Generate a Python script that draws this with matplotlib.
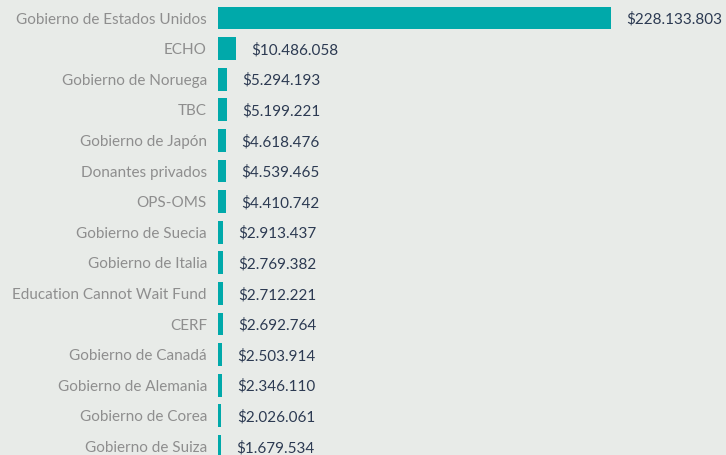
import matplotlib.pyplot as plt
import numpy as np

plt.rcParams['font.family'] = ['Lato', 'DejaVu Sans']

donors = ['Gobierno de Estados Unidos', 'ECHO', 'Gobierno de Noruega', 'TBC',
          'Gobierno de Japón', 'Donantes privados', 'OPS-OMS', 'Gobierno de Suecia',
          'Gobierno de Italia', 'Education Cannot Wait Fund', 'CERF',
          'Gobierno de Canadá', 'Gobierno de Alemania', 'Gobierno de Corea',
          'Gobierno de Suiza']
amounts = [228133803, 10486058, 5294193, 5199221, 4618476, 4539465, 4410742,
           2913437, 2769382, 2712221, 2692764, 2503914, 2346110, 2026061, 1679534]

bg = '#e8ebe8'
bar_color = '#00a9aa'
label_color = '#8e8e8e'
value_color = '#2c3a52'


def fmt(v):
    return '$' + f'{v:,}'.replace(',', '.')


fig = plt.figure(figsize=(7.26, 4.55), dpi=100, facecolor=bg)
ax = fig.add_axes([218 / 726, 0, 508 / 726, 1], facecolor=bg)

y = np.arange(len(donors))
ax.barh(y, amounts, height=0.75, color=bar_color)
ax.set_xlim(0, 228133803 * 508 / 393)
ax.set_ylim((455 - 18) / 30.6, -18 / 30.6)

for yi, v in zip(y, amounts):
    ax.annotate(fmt(v), (v, yi), xytext=(11, -1), textcoords='offset points',
                va='center', ha='left', fontsize=11, color=value_color)

ax.set_yticks(y)
ax.set_yticklabels(donors, fontsize=11, color=label_color)
ax.tick_params(axis='y', length=0, pad=8)
ax.set_xticks([])
for s in ax.spines.values():
    s.set_visible(False)

fig.savefig('out.png', dpi=100, facecolor=bg)
